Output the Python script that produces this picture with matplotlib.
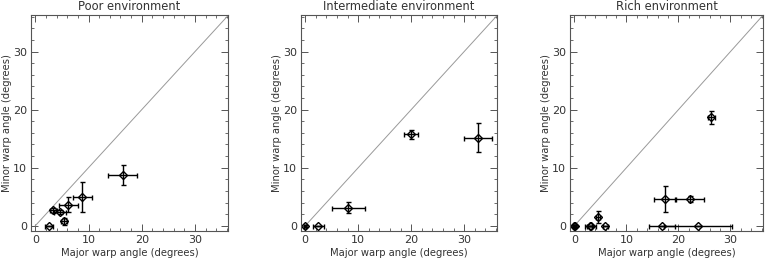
import matplotlib
matplotlib.use('Agg')
import matplotlib.pyplot as plt
from matplotlib.ticker import MultipleLocator

plt.rcParams['font.family'] = ['Liberation Sans Narrow', 'DejaVu Sans']

titles = ['Poor environment', 'Intermediate environment', 'Rich environment']

# Poor
poor_x = [16.4, 8.8, 6.2, 4.7, 3.4, 5.4, 2.6]
poor_y = [8.7, 4.9, 3.6, 2.4, 2.65, 0.8, 0.0]
poor_xerr = [2.7, 1.8, 1.8, 1.1, 0.6, 0.6, 0.8]
poor_yerr = [1.7, 2.6, 1.3, 0.4, 0.4, 0.6, 0.0]

# Intermediate
inter_x = [0.0, 2.5, 8.1, 20.0, 32.6]
inter_y = [0.0, 0.0, 3.1, 15.75, 15.2]
inter_xerr = [0.2, 1.0, 3.1, 1.3, 2.7]
inter_yerr = [0.2, 0.0, 0.95, 0.8, 2.5]

# Rich
rich_x = [0.0, 0.1, 3.1, 2.9, 4.5, 5.9, 17.4, 22.2, 26.3, 16.9, 23.75]
rich_y = [0.0, 0.0, 0.0, 0.0, 1.5, 0.0, 4.65, 4.6, 18.7, 0.0, 0.0]
rich_xerr = [0.2, 0.2, 1.1, 0.5, 0.4, 0.5, 2.1, 2.8, 0.7, 2.5, 6.5]
rich_yerr = [0.2, 0.2, 0.0, 0.0, 1.0, 0.0, 2.2, 0.5, 1.1, 0.0, 0.0]

data = [(poor_x, poor_y, poor_xerr, poor_yerr),
        (inter_x, inter_y, inter_xerr, inter_yerr),
        (rich_x, rich_y, rich_xerr, rich_yerr)]

fig = plt.figure(figsize=(7.68, 2.59), dpi=100)
lefts = [31, 301, 570.3]
widths = [197, 196, 192.4]
height = 216

for i in range(3):
    ax = fig.add_axes([lefts[i] / 768, 1 - 231 / 259, widths[i] / 768, height / 259])
    x, y, xe, ye = data[i]
    ax.plot([0, 40], [0, 40], color='#999999', lw=0.7)
    ax.errorbar(x, y, xerr=xe, yerr=ye, fmt='none', ecolor='black',
                elinewidth=1.0, capsize=1.8, capthick=1.0)
    ax.plot(x, y, linestyle='none', marker='D', markersize=4.5,
            markerfacecolor='none', markeredgecolor='black', markeredgewidth=1.0)
    ax.set_xlim(-0.8, 36.2)
    ax.set_ylim(-0.9, 36.3)
    ax.xaxis.set_major_locator(MultipleLocator(10))
    ax.yaxis.set_major_locator(MultipleLocator(10))
    ax.xaxis.set_minor_locator(MultipleLocator(2))
    ax.yaxis.set_minor_locator(MultipleLocator(2))
    ax.tick_params(which='both', direction='in', top=True, right=True,
                   colors='#555555', labelsize=8, labelcolor='#333333')
    ax.tick_params(which='major', length=5, width=0.7, pad=3)
    ax.tick_params(which='minor', length=2.5, width=0.6)
    for s in ax.spines.values():
        s.set_color('#555555')
        s.set_linewidth(0.8)
    ax.set_title(titles[i], fontsize=8.3, color='#333333', pad=3.6)
    ax.set_xlabel('Major warp angle (degrees)', fontsize=7.2, color='#333333', va='center')
    ax.xaxis.set_label_coords(0.5, -22.5 / height)
    ax.set_ylabel('Minor warp angle (degrees)', fontsize=7.2, color='#333333', va='center')
    ax.yaxis.set_label_coords(-24 / widths[i], 0.5)

fig.savefig('out.png', dpi=100)
